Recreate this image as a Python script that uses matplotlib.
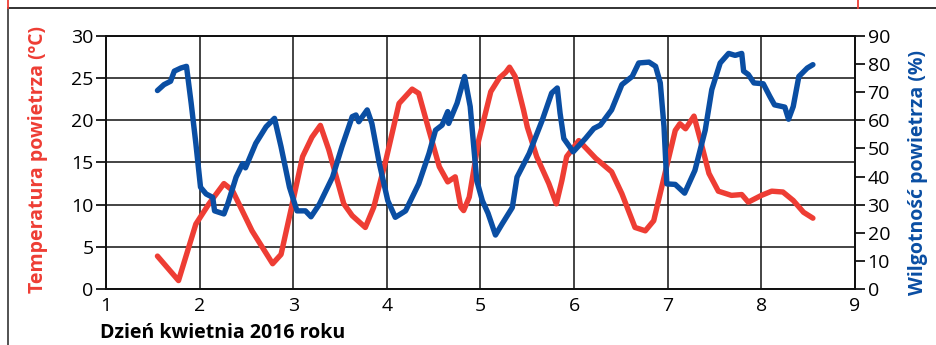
import matplotlib.pyplot as plt
from matplotlib.lines import Line2D

plt.rcParams['font.family'] = ['Open Sans', 'DejaVu Sans']

# temperatura (dzien, st. C)
temp_x = [1.55, 1.775, 1.96, 2.10, 2.26, 2.35, 2.56, 2.78, 2.87, 2.99, 3.10, 3.20,
          3.29, 3.38, 3.54, 3.63, 3.77, 3.86, 3.99, 4.13, 4.27, 4.34, 4.45, 4.56,
          4.65, 4.73, 4.79, 4.82, 4.88, 4.98, 5.11, 5.20, 5.27, 5.31, 5.37, 5.46,
          5.50, 5.60, 5.73, 5.81, 5.87, 5.92, 6.05, 6.23, 6.40, 6.51, 6.65, 6.76,
          6.85, 6.97, 7.08, 7.13, 7.19, 7.28, 7.35, 7.44, 7.54, 7.68, 7.79, 7.86,
          8.00, 8.11, 8.23, 8.34, 8.45, 8.55]
temp_y = [3.9, 1.0, 7.7, 10.1, 12.5, 11.7, 6.9, 3.0, 4.1, 10.1, 15.7, 18.0,
          19.4, 16.5, 10.1, 8.7, 7.3, 9.7, 15.3, 22.0, 23.7, 23.2, 18.8, 14.5,
          12.7, 13.3, 9.7, 9.3, 10.9, 17.6, 23.4, 25.0, 25.7, 26.3, 25.2, 21.2,
          19.2, 15.7, 12.5, 10.1, 12.9, 15.7, 17.6, 15.5, 13.9, 11.3, 7.3, 6.9,
          8.1, 13.7, 18.8, 19.6, 19.0, 20.5, 17.6, 13.7, 11.6, 11.1, 11.2, 10.3,
          11.1, 11.6, 11.5, 10.5, 9.1, 8.4]

# wilgotnosc (dzien, %)
hum_x = [1.55, 1.62, 1.69, 1.73, 1.80, 1.86, 1.91, 1.96, 2.01, 2.07, 2.14, 2.16,
         2.26, 2.30, 2.39, 2.46, 2.49, 2.60, 2.71, 2.80, 2.87, 2.96, 3.04, 3.13,
         3.19, 3.28, 3.42, 3.52, 3.63, 3.67, 3.70, 3.79, 3.84, 3.92, 4.01, 4.09,
         4.20, 4.34, 4.45, 4.52, 4.59, 4.65, 4.66, 4.75, 4.83, 4.89, 4.96, 5.02,
         5.08, 5.12, 5.16, 5.23, 5.34, 5.39, 5.52, 5.66, 5.76, 5.82, 5.85, 5.89,
         5.99, 6.12, 6.21, 6.28, 6.40, 6.51, 6.62, 6.69, 6.80, 6.87, 6.92, 6.96,
         6.99, 7.08, 7.18, 7.29, 7.40, 7.47, 7.56, 7.65, 7.72, 7.79, 7.81, 7.86,
         7.92, 8.02, 8.09, 8.14, 8.25, 8.29, 8.34, 8.40, 8.49, 8.55]
hum_y = [70.6, 72.7, 73.9, 77.5, 78.6, 79.2, 66.1, 51.8, 36.2, 33.8, 32.6, 27.8,
         26.7, 30.2, 39.8, 44.6, 43.1, 51.8, 57.7, 60.7, 50.6, 36.2, 27.8, 27.8,
         25.7, 30.2, 39.8, 50.6, 61.3, 61.9, 59.5, 63.7, 58.9, 44.6, 31.4, 25.5,
         27.8, 37.4, 48.2, 56.5, 58.3, 63.1, 58.9, 66.1, 75.6, 64.9, 38.6, 31.4,
         27.0, 23.1, 19.2, 23.1, 29.0, 39.8, 48.2, 60.1, 69.7, 71.5, 62.5, 53.5,
         48.8, 53.5, 57.1, 58.3, 63.7, 72.7, 75.6, 80.4, 80.7, 79.2, 73.3, 57.7,
         37.4, 37.2, 34.1, 42.2, 56.5, 70.9, 80.4, 83.8, 83.1, 83.8, 77.5, 76.3,
         73.3, 73.0, 68.5, 65.5, 64.7, 60.4, 64.9, 75.6, 78.6, 79.8]

x_ticks = [1, 2, 3, 4, 5, 6, 7, 8, 9]
t_ticks = [0, 5, 10, 15, 20, 25, 30]
h_ticks = [0, 10, 20, 30, 40, 50, 60, 70, 80, 90]

RED = '#ee3d34'
BLUE = '#0a4ea3'

fig = plt.figure(figsize=(9.36, 3.45), dpi=100)
ax = fig.add_axes([0.1132, 0.1623, 0.8003, 0.7334])
ax2 = ax.twinx()

ax.set_xlim(1, 9)
ax.set_ylim(0, 30)
ax2.set_ylim(0, 90)
ax.set_xticks(x_ticks)
ax.set_yticks(t_ticks)
ax2.set_yticks(h_ticks)

ax.grid(True, color='#111111', linewidth=1.1)
ax.set_axisbelow(True)

ax.plot(temp_x, temp_y, color=RED, linewidth=3.9, solid_capstyle='round',
        solid_joinstyle='round', zorder=3)
ax2.plot(hum_x, hum_y, color=BLUE, linewidth=3.9, solid_capstyle='round',
         solid_joinstyle='round', zorder=3)

for a in (ax, ax2):
    for s in a.spines.values():
        s.set_linewidth(1.3)
        s.set_color('#111111')
ax.tick_params(axis='y', direction='out', length=7, width=1.2, labelsize=14, pad=2)
ax2.tick_params(axis='y', direction='out', length=7, width=1.2, labelsize=14, pad=2)
ax.tick_params(axis='x', length=0, labelsize=14, pad=6)

ax.set_ylabel('Temperatura powietrza (\u00baC)', color=RED, fontsize=14,
              fontweight='bold')
ax2.set_ylabel('Wilgotno\u015b\u0107 powietrza (%)', color=BLUE, fontsize=14,
               fontweight='bold')
ax.yaxis.set_label_coords(-0.078, 0.51)
ax2.yaxis.set_label_coords(1.071, 0.46)

fig.text(0.107, 0.035, 'Dzie\u0144 kwietnia 2016 roku', fontsize=14,
         fontweight='bold', ha='left', va='center')

# ramka
fig.add_artist(Line2D([0.009, 1.0], [0.977, 0.977], color='#222222', linewidth=1.3))
fig.add_artist(Line2D([0.009, 0.009], [0.0, 0.977], color='#444444', linewidth=1.3))
fig.add_artist(Line2D([0.009, 0.009], [0.977, 1.0], color=RED, linewidth=1.3))
fig.add_artist(Line2D([0.917, 0.917], [0.977, 1.0], color=RED, linewidth=1.3))

plt.savefig('out.png', dpi=100)
